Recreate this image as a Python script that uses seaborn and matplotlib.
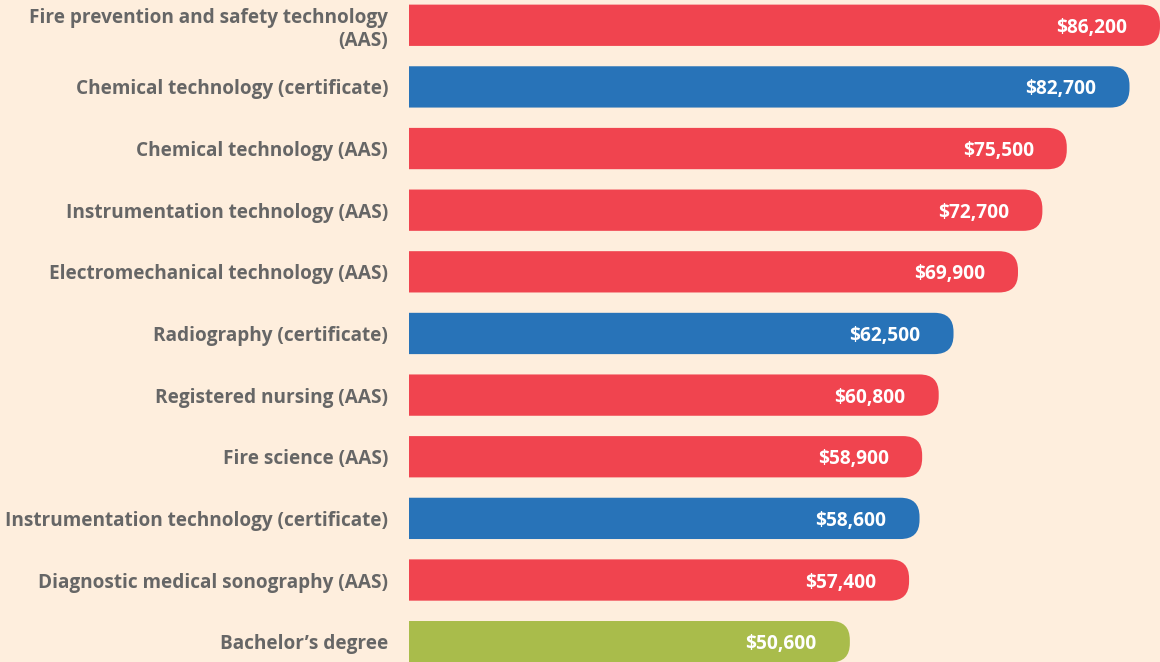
import matplotlib
matplotlib.use("Agg")
import matplotlib.pyplot as plt
from matplotlib.patches import FancyBboxPatch
import pandas as pd
import seaborn as sns

PROGRAMAS = [
    "Fire prevention and safety technology\n(AAS)",
    "Chemical technology (certificate)",
    "Chemical technology (AAS)",
    "Instrumentation technology (AAS)",
    "Electromechanical technology (AAS)",
    "Radiography (certificate)",
    "Registered nursing (AAS)",
    "Fire science (AAS)",
    "Instrumentation technology (certificate)",
    "Diagnostic medical sonography (AAS)",
    "Bachelor\u2019s degree",
]
SALARIOS = [86200, 82700, 75500, 72700, 69900, 62500, 60800, 58900, 58600, 57400, 50600]
TIPOS = ["AAS", "certificate", "AAS", "AAS", "AAS", "certificate", "AAS", "AAS",
         "certificate", "AAS", "bachelor"]

COLORES = {"AAS": "#F0444F", "certificate": "#2873B8", "bachelor": "#A9BC4B"}
FONDO = "#FEEEDD"
GRIS = "#666666"

sns.set_theme(style="white")
plt.rcParams["font.family"] = ["Open Sans", "DejaVu Sans"]

df = pd.DataFrame({"Programa": PROGRAMAS, "Salario": SALARIOS, "Tipo": TIPOS})

fig = plt.figure(figsize=(11.6, 6.62), dpi=100, facecolor=FONDO)
ax = fig.add_axes([409 / 1160, 0, 1 - 409 / 1160, 1])
ax.set_facecolor(FONDO)

sns.barplot(df, x="Salario", y="Programa", hue="Tipo", palette=COLORES,
            dodge=False, width=0.67, legend=False, ax=ax, saturation=1)

ax.set_xlim(0, 86200)
ax.set_ylim(10.33, -0.41)
fig.canvas.draw()

# pixeles por unidad de datos, para redondear solo el extremo derecho
px_x = ax.transData.transform((1, 0))[0] - ax.transData.transform((0, 0))[0]
px_y = abs(ax.transData.transform((0, 1))[1] - ax.transData.transform((0, 0))[1])
radio_px = 19

for barra in list(ax.patches):
    x, y = barra.get_x(), barra.get_y()
    w, h = barra.get_width(), barra.get_height()
    if w <= 0:
        continue
    color = barra.get_facecolor()
    barra.remove()
    extra = 40 / px_x
    nueva = FancyBboxPatch((x - extra, y), w + extra, h,
                           boxstyle=f"round,pad=0,rounding_size={radio_px / px_x}",
                           mutation_aspect=px_x / px_y,
                           facecolor=color, edgecolor="none", clip_on=True)
    ax.add_patch(nueva)
    ax.annotate(f"${w:,.0f}", (x + w, y + h / 2), xytext=(-33, 0),
                textcoords="offset pixels", ha="right", va="center_baseline",
                color="white", fontsize=13.8, fontweight="bold",
                annotation_clip=False)

ax.set_xlabel("")
ax.set_ylabel("")
ax.set_xticks([])
ax.tick_params(axis="y", length=0, pad=15)
for etiqueta in ax.get_yticklabels():
    etiqueta.set_color(GRIS)
    etiqueta.set_fontsize(13.7)
    etiqueta.set_fontweight("bold")
    etiqueta.set_linespacing(1.2)
sns.despine(ax=ax, left=True, bottom=True)

fig.savefig("out.png", facecolor=FONDO)
plt.close()
